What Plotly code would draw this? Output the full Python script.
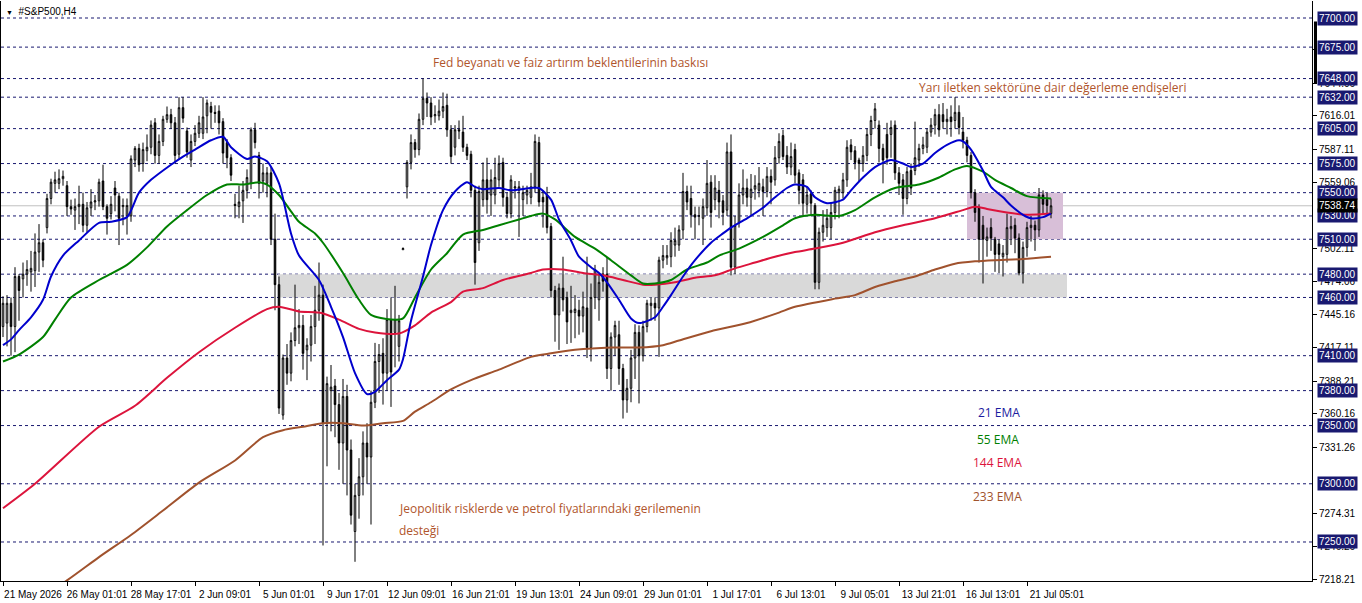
import plotly.graph_objects as go

# ---------------- data ----------------
opens = [7435,7438,7455,7435,7478,7476,7480,7482,7483,7499,
7507,7520,7545,7558,7558,7562,7556,7538,7535,7538,
7540,7522,7537,7542,7543,7560,7538,7532,7554,7547,
7538,7530,7530,7578,7588,7575,7586,7589,7610,7582,
7594,7613,7617,7610,7583,7623,7603,7578,7594,7601,
7601,7616,7624,7619,7620,7611,7593,7580,7540,7538,
7543,7552,7558,7604,7582,7560,7558,7567,7510,7471,
7359,7408,7395,7423,7434,7436,7415,7419,7435,7449,
7462,7352,7380,7384,7368,7335,7375,7329,7259,7290,
7306,7335,7323,7370,7405,7412,7395,7441,7430,7418,
7501,7555,7576,7593,7587,7613,7631,7627,7616,7616,
7620,7625,7604,7589,7604,7602,7589,7583,7552,7507,
7544,7561,7548,7548,7561,7576,7546,7532,7554,7552,
7544,7548,7546,7555,7593,7546,7548,7521,7466,7445,
7468,7460,7447,7447,7449,7444,7451,7417,7460,7458,
7480,7480,7399,7426,7428,7399,7372,7382,7408,7430,
7410,7435,7453,7455,7451,7492,7494,7495,7505,7505,
7518,7551,7545,7531,7530,7528,7537,7559,7544,7552,
7543,7535,7585,7486,7524,7548,7554,7546,7553,7552,
7555,7551,7564,7561,7580,7599,7582,7572,7587,7567,
7561,7540,7549,7539,7473,7516,7520,7520,7533,7550,
7550,7561,7591,7586,7578,7575,7582,7600,7612,7608,
7588,7600,7600,7608,7567,7561,7545,7569,7569,7578,
7588,7589,7602,7608,7617,7617,7611,7615,7612,7619,
7602,7595,7582,7550,7537,7522,7509,7520,7510,7506,
7495,7497,7519,7522,7511,7481,7503,7520,7522,7518,
7548,7544,7532]
highs = [7461,7462,7460,7486,7480,7490,7492,7500,7515,7523,
7510,7549,7562,7568,7570,7569,7560,7544,7545,7556,
7550,7542,7553,7548,7562,7574,7540,7547,7560,7550,
7545,7545,7582,7590,7592,7593,7600,7612,7614,7600,
7616,7624,7622,7615,7632,7632,7606,7600,7608,7616,
7632,7630,7628,7625,7625,7614,7596,7583,7549,7556,
7560,7570,7606,7610,7585,7575,7572,7572,7532,7478,
7411,7420,7430,7471,7450,7445,7425,7445,7470,7490,
7471,7392,7402,7390,7378,7390,7385,7338,7300,7322,
7345,7352,7380,7421,7420,7425,7450,7460,7470,7445,
7503,7578,7600,7596,7618,7648,7636,7632,7625,7630,
7636,7635,7608,7608,7612,7616,7592,7586,7556,7556,
7576,7580,7570,7580,7582,7580,7550,7565,7560,7560,
7556,7556,7567,7600,7598,7552,7555,7524,7470,7472,
7495,7465,7470,7462,7458,7465,7495,7472,7488,7480,
7486,7494,7430,7440,7440,7403,7390,7415,7437,7436,
7440,7458,7460,7460,7495,7505,7505,7516,7520,7522,
7567,7556,7556,7538,7538,7545,7578,7565,7565,7560,
7548,7593,7600,7530,7558,7570,7562,7566,7565,7572,
7562,7572,7570,7590,7601,7604,7590,7593,7592,7570,
7566,7555,7552,7541,7520,7535,7536,7542,7555,7556,
7567,7595,7596,7590,7580,7590,7605,7616,7627,7612,
7592,7610,7612,7612,7572,7566,7572,7575,7611,7592,
7598,7605,7614,7622,7626,7627,7622,7625,7632,7625,
7615,7598,7585,7553,7540,7530,7520,7528,7512,7510,
7505,7532,7530,7528,7515,7508,7525,7530,7526,7554,
7552,7550,7545]
lows = [7426,7418,7410,7413,7440,7460,7470,7465,7469,7482,
7486,7515,7540,7550,7553,7556,7530,7531,7518,7523,
7516,7516,7530,7535,7538,7535,7514,7527,7534,7505,
7522,7514,7525,7572,7568,7568,7577,7583,7575,7575,
7590,7610,7605,7575,7578,7610,7580,7572,7590,7597,
7596,7601,7605,7610,7600,7575,7571,7560,7528,7528,
7524,7545,7553,7588,7545,7550,7546,7505,7449,7360,
7355,7385,7388,7418,7420,7398,7389,7405,7420,7440,
7247,7315,7345,7340,7312,7300,7290,7265,7233,7270,
7290,7300,7265,7365,7378,7368,7380,7366,7400,7405,
7501,7545,7570,7580,7582,7608,7615,7608,7610,7612,
7614,7598,7575,7582,7596,7585,7578,7546,7471,7500,
7538,7532,7530,7540,7555,7538,7528,7528,7545,7512,
7530,7540,7540,7550,7538,7520,7515,7460,7422,7415,
7448,7420,7421,7425,7428,7430,7408,7405,7450,7440,
7465,7390,7380,7410,7385,7356,7361,7370,7390,7369,
7405,7430,7440,7440,7409,7485,7488,7486,7495,7500,
7510,7535,7520,7510,7522,7505,7530,7520,7535,7528,
7522,7530,7479,7480,7520,7540,7538,7530,7544,7546,
7530,7546,7540,7556,7575,7578,7566,7565,7558,7540,
7530,7532,7530,7467,7467,7508,7512,7510,7527,7528,
7545,7555,7578,7570,7560,7568,7577,7590,7605,7576,
7558,7574,7580,7561,7548,7531,7540,7548,7565,7572,
7583,7584,7598,7600,7598,7605,7600,7598,7605,7600,
7588,7576,7545,7525,7490,7472,7495,7500,7482,7481,
7478,7490,7505,7498,7479,7472,7495,7508,7500,7512,
7532,7530,7528]
closes = [7455,7455,7435,7478,7466,7480,7484,7485,7499,7507,
7492,7545,7559,7561,7562,7564,7538,7536,7538,7540,
7522,7537,7542,7543,7559,7538,7528,7540,7548,7528,
7539,7539,7579,7588,7574,7587,7589,7608,7582,7594,
7613,7617,7610,7582,7623,7614,7585,7594,7601,7610,
7615,7627,7619,7618,7610,7584,7580,7565,7539,7542,
7552,7563,7604,7593,7558,7567,7567,7510,7471,7365,
7408,7395,7423,7434,7436,7412,7419,7435,7449,7462,
7352,7386,7383,7368,7335,7375,7329,7273,7290,7306,
7335,7323,7370,7405,7411,7395,7441,7396,7441,7440,
7502,7576,7593,7587,7613,7631,7627,7615,7617,7620,
7624,7604,7581,7604,7603,7589,7582,7552,7490,7551,
7561,7544,7561,7563,7575,7546,7532,7561,7555,7555,
7550,7552,7555,7594,7542,7542,7520,7466,7445,7468,
7458,7439,7449,7450,7444,7452,7417,7460,7484,7473,
7474,7399,7426,7436,7399,7372,7382,7408,7430,7410,
7435,7455,7455,7451,7492,7496,7496,7509,7509,7518,
7551,7542,7531,7529,7530,7538,7558,7533,7554,7542,
7533,7585,7486,7522,7548,7554,7546,7553,7556,7558,
7551,7564,7559,7580,7594,7581,7572,7581,7565,7552,
7541,7548,7541,7473,7516,7522,7528,7533,7552,7553,
7561,7589,7585,7576,7575,7582,7600,7612,7622,7588,
7578,7580,7606,7567,7558,7545,7568,7554,7580,7588,
7591,7602,7608,7617,7604,7611,7613,7611,7619,7606,
7595,7582,7550,7533,7510,7510,7512,7511,7497,7497,
7498,7520,7521,7511,7481,7503,7520,7522,7518,7548,
7540,7539,7538.74]

x_tick_bars = [0,16,32,48,64,80,96,112,128,144,160,176,192,208,224,240,256]
x_tick_labels = ["21 May 2026","26 May 01:01","28 May 17:01","2 Jun 09:01","5 Jun 01:01",
                 "9 Jun 17:01","12 Jun 09:01","16 Jun 21:01","19 Jun 13:01","24 Jun 09:01",
                 "29 Jun 01:01","1 Jul 17:01","6 Jul 13:01","9 Jul 05:01","13 Jul 21:01",
                 "16 Jul 13:01","21 Jul 05:01"]

ema21_bar = [0,2,4,7,10,12,15,19,24,27,31,34,37,42,45,48,52,55,57,61,63,66,69,72,74,79,82,85,88,91,93,96,99,
             100,102,105,107,110,113,116,118,120,124,127,132,134,137,139,142,144,147,149,151,154,157,159,163,
             165,167,170,173,177,180,182,186,190,193,196,198,201,203,206,210,212,215,218,222,225,227,230,233,
             236,239,240,242,245,247,250,252,255,257,260,262]
ema21_val = [7419,7424,7432,7443,7458,7478,7496,7509,7524,7525,7529,7550,7561,7574,7581,7587,7595,7598,7589,7579,7581,7577,7558,7515,7496,7475,7452,7426,7395,7377,7379,7389,7398,
             7407,7440,7478,7505,7535,7551,7559,7555,7553,7554,7552,7554,7554,7544,7527,7509,7495,7486,7481,7473,7458,7442,7438,7443,
             7452,7462,7478,7492,7507,7515,7520,7528,7537,7546,7554,7557,7555,7546,7541,7544,7552,7563,7572,7578,7575,7572,7575,7584,
             7591,7595,7594,7587,7569,7555,7546,7539,7531,7528,7529,7532]

ema55_bar = [0,4,10,13,17,24,31,36,41,46,51,56,60,64,66,69,72,74,78,80,85,89,92,97,100,103,107,111,115,120,124,129,132,
             135,138,143,148,152,157,160,163,167,171,176,179,184,190,195,198,203,209,213,218,223,229,234,238,241,245,
             248,252,256,262]
ema55_val = [7405,7411,7426,7441,7460,7475,7488,7503,7521,7535,7548,7557,7557,7559,7557,7548,7534,7525,7515,7507,7481,7458,7445,7441,7442,7460,7484,7498,7514,7518,7522,7527,7530,
             7532,7527,7512,7502,7492,7479,7472,7472,7475,7484,7490,7496,7502,7512,7522,7528,7531,7530,7535,7546,7554,7557,7563,7570,7573,7568,
             7561,7554,7547,7545]

ema144_bar = [0,8,24,33,41,49,58,66,69,74,79,84,89,93,99,103,107,112,115,120,125,132,135,140,145,150,155,160,163,168,
              173,178,183,188,193,198,203,210,218,225,233,240,243,246,251,256,262]
ema144_val = [7279,7300,7349,7367,7391,7413,7434,7450,7452,7448,7447,7441,7433,7430,7429,7436,7447,7456,7465,7468,7475,7481,7484,7484,7481,7479,7475,7471,7471,7473,
              7477,7479,7485,7490,7495,7499,7502,7507,7516,7522,7528,7535,7538,7536,7533,7531,7532]

ema233_bar = [0,16,24,32,40,49,58,65,70,75,80,85,90,95,100,103,107,112,117,124,132,137,143,152,159,165,169,177,186,194,
              198,208,213,218,223,228,233,238,243,248,255,262]
ema233_val = [7181,7217,7237,7256,7277,7301,7320,7340,7346,7349,7352,7352,7350,7352,7354,7362,7370,7381,7389,7398,7409,7412,7415,7417,7417,7419,7423,7431,7438,7447,
              7452,7459,7462,7469,7474,7478,7484,7489,7491,7492,7493,7495]

levels = [7700,7675,7648,7632,7605,7575,7550,7530,7510,7480,7460,7410,7380,7350,7300,7250]
last_price = 7538.74
axis_ticks = [7218.21,7246.26,7274.31,7331.26,7360.16,7388.21,7417.11,7445.16,7474.06,
              7502.11,7559.06,7587.11,7616.01,7644.06,7672.96]

# zones: (bar_from, bar_to, price_low, price_high)
zone_gray = (68.75, 266, 7460, 7480)
zone_purple = (241, 265, 7510, 7550)

notes = [
    ("Fed beyanatı ve faiz artırım beklentilerinin baskısı", 107, 7662, "#b0552c"),
    ("Yarı iletken sektörüne dair değerleme endişeleri", 228.5, 7640, "#b0552c"),
    ("Jeopolitik risklerde ve petrol fiyatlarındaki gerilemenin", 98.5, 7279, "#b0552c"),
    ("desteği", 98.5, 7259.5, "#b0552c"),
    ("21 EMA", 243.25, 7361, "#1c1ca0"),
    ("55 EMA", 243, 7337.6, "#008000"),
    ("144 EMA", 242, 7318, "#dc143c"),
    ("233 EMA", 242, 7289, "#a0522d"),
]

# ---------------- figure ----------------
bars = list(range(len(closes)))
fig = go.Figure()

fig.add_trace(go.Candlestick(
    x=bars, open=opens, high=highs, low=lows, close=closes,
    increasing=dict(line=dict(color="black", width=1), fillcolor="white"),
    decreasing=dict(line=dict(color="black", width=1), fillcolor="black"),
    whiskerwidth=0, hoverinfo="skip", showlegend=False))

for bx, vals, col in [(ema233_bar, ema233_val, "#a0522d"),
                      (ema144_bar, ema144_val, "#dc143c"),
                      (ema55_bar, ema55_val, "#008000"),
                      (ema21_bar, ema21_val, "#0000cd")]:
    fig.add_trace(go.Scatter(x=bx, y=vals, mode="lines",
                             line=dict(color=col, width=2, shape="spline", smoothing=0.7),
                             hoverinfo="skip", showlegend=False))

shapes = []
for (x0, x1, y0, y1), col in [(zone_gray, "#d9d9d9"), (zone_purple, "#d8bfd8")]:
    shapes.append(dict(type="rect", xref="x", yref="y", x0=x0, x1=x1, y0=y0, y1=y1,
                       fillcolor=col, line=dict(width=0), layer="below"))
for lv in levels:
    shapes.append(dict(type="line", xref="paper", yref="y", x0=0, x1=1, y0=lv, y1=lv,
                       line=dict(color="#191970", width=1, dash="3px,3px"), layer="below"))
shapes.append(dict(type="line", xref="paper", yref="y", x0=0, x1=1, y0=last_price, y1=last_price,
                   line=dict(color="#c0c0c0", width=1), layer="below"))
# scrollbar marker of the terminal next to the price scale
shapes.append(dict(type="rect", xref="paper", yref="y", x0=1.0015, x1=1.0038, y0=7644, y1=7697,
                   fillcolor="black", line=dict(width=0)))

annotations = []
for lv in levels:
    annotations.append(dict(x=1, xref="paper", xanchor="left", xshift=5, y=lv, yref="y",
                            text=f"{lv:.2f}", showarrow=False, bgcolor="#191970", borderpad=1,
                            font=dict(family="Liberation Sans", size=10, color="white")))
annotations.append(dict(x=1, xref="paper", xanchor="left", xshift=5, y=last_price, yref="y",
                        text=f"{last_price:.2f}", showarrow=False, bgcolor="black", borderpad=1,
                        font=dict(family="Liberation Sans", size=10, color="white")))
for txt, bx, py, col in notes:
    annotations.append(dict(x=bx, y=py, xref="x", yref="y", xanchor="left", yanchor="middle",
                            text=txt, showarrow=False,
                            font=dict(family="Open Sans", size=12, color=col)))
annotations.append(dict(x=0, y=1, xref="paper", yref="paper", xanchor="left", yanchor="top",
                        xshift=3, yshift=-3, showarrow=False,
                        text="<span style='font-size:7px'>▼</span>  #S&P500,H4",
                        font=dict(family="Liberation Sans", size=10, color="black")))

fig.update_layout(
    width=1362, height=603,
    margin=dict(l=1, r=50, t=1, b=22),
    paper_bgcolor="white", plot_bgcolor="white",
    shapes=shapes, annotations=annotations,
    showlegend=False, boxgap=0.45,
    xaxis=dict(range=[-0.5, 327.25], tickmode="array", tickvals=x_tick_bars, ticktext=x_tick_labels,
               ticks="outside", ticklen=4, tickcolor="black", showline=True, linecolor="black",
               showgrid=False, zeroline=False, rangeslider=dict(visible=False),
               ticklabelshift=30, tickfont=dict(family="Liberation Sans", size=10, color="black")),
    yaxis=dict(range=[7216.5, 7714.6], side="right", tickmode="array", tickvals=axis_ticks,
               ticktext=[f"{v:.2f}" for v in axis_ticks], ticks="outside", ticklen=4,
               tickcolor="black", showline=True, mirror=True, linecolor="black",
               showgrid=False, zeroline=False,
               tickfont=dict(family="Liberation Sans", size=10, color="black")),
)

fig.write_html("out.html")
